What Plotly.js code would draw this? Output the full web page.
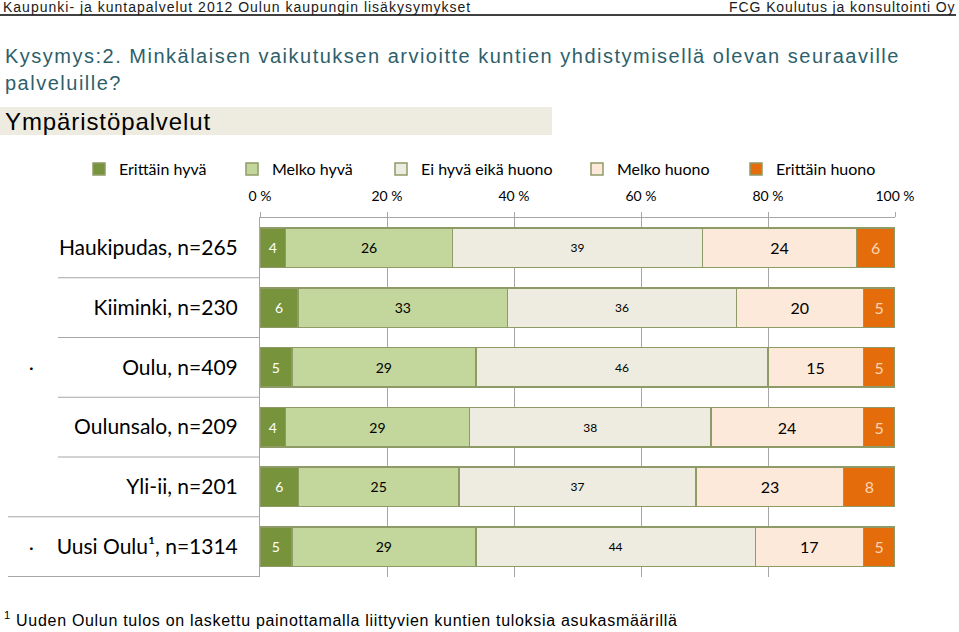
<!DOCTYPE html>
<html>
<head>
<meta charset="utf-8">
<script src="https://cdn.plot.ly/plotly-3.0.1.min.js"></script>
<style>
html,body{margin:0;padding:0;background:#fff;}
#chart{width:959px;height:632px;}
</style>
</head>
<body>
<div id="chart"></div>
<script>
// ---- data ----
const categories = ["Haukipudas, n=265", "Kiiminki, n=230", "Oulu, n=409", "Oulunsalo, n=209", "Yli-ii, n=201", "Uusi Oulu\u00b9, n=1314"];
const seriesNames = ["Erittäin hyvä", "Melko hyvä", "Ei hyvä eikä huono", "Melko huono", "Erittäin huono"];
const erittainHyva = [4, 6, 5, 4, 6, 5];
const melkoHyva = [26, 33, 29, 29, 25, 29];
const eiHyvaEikaHuono = [39, 36, 46, 38, 37, 44];
const melkoHuono = [24, 20, 15, 24, 23, 17];
const erittainHuono = [6, 5, 5, 5, 8, 5];
const xTicks = [0, 20, 40, 60, 80, 100];
const dottedRows = ["Oulu, n=409", "Uusi Oulu\u00b9, n=1314"];

const seriesValues = [erittainHyva, melkoHyva, eiHyvaEikaHuono, melkoHuono, erittainHuono];
const colors = ["#77933c", "#c3d69b", "#eeece1", "#fde9d9", "#e46c0a"];
const textColors = ["#ffffff", "#000000", "#000000", "#000000", "#fbd5b5"];
const textSizes = [14, 14, 12, 16, 16];
const legendTextStart = [119, 272, 421, 617, 776];

// pixel -> paper helpers (plot area: x 260..895, y 218..577)
const L = 260, R = 895, T = 218, B = 577;
const px = v => (v - L) / (R - L);
const py = v => (B - v) / (B - T);

const traces = seriesNames.map((name, i) => ({
  type: "bar",
  orientation: "h",
  name: name,
  legend: i === 0 ? "legend" : "legend" + (i + 1),
  y: categories,
  x: seriesValues[i],
  text: seriesValues[i].map(String),
  textposition: "inside",
  insidetextanchor: "middle",
  constraintext: "none",
  textangle: 0,
  textfont: {family: "Lato, sans-serif", size: textSizes[i], color: textColors[i]},
  marker: {color: colors[i], line: {color: "#8e9b66", width: 1.5}},
  hoverinfo: "x+name"
}));

const shapes = [];
// header rule
shapes.push({type: "line", xref: "paper", yref: "paper", x0: px(0), x1: px(956), y0: py(15), y1: py(15), line: {color: "#404040", width: 2}});
// subtitle box
shapes.push({type: "rect", xref: "paper", yref: "paper", x0: px(0), x1: px(552), y0: py(135), y1: py(107), fillcolor: "#eeece1", line: {width: 0}, layer: "below"});
// row separators in label area
for (let k = 0; k < categories.length; k++) {
  const wide = k >= categories.length - 2;
  shapes.push({type: "line", xref: "paper", yref: "y", x0: wide ? px(8) : px(58), x1: 0, y0: k + 0.5, y1: k + 0.5, line: {color: "#a6a6a6", width: 1}});
}

const hdrFont = {family: "Liberation Sans, Arial, sans-serif", size: 14, color: "#1a1a1a"};
const ttlFont = {family: "Liberation Sans, Arial, sans-serif", size: 20, color: "#2e5f6b"};
const annotations = [
  {text: "Kaupunki- ja kuntapalvelut 2012 Oulun kaupungin lisäkysymykset", xref: "paper", yref: "paper", x: px(1), y: py(7), xanchor: "left", align: "left", yanchor: "middle", showarrow: false, font: hdrFont},
  {text: "FCG Koulutus ja konsultointi Oy", xref: "paper", yref: "paper", x: px(957), y: py(7), xanchor: "right", align: "right", yanchor: "middle", showarrow: false, font: hdrFont},
  {text: "Kysymys:2. Minkälaisen vaikutuksen arvioitte kuntien yhdistymisellä olevan seuraaville", xref: "paper", yref: "paper", x: px(3), y: py(56), xanchor: "left", align: "left", yanchor: "middle", showarrow: false, font: ttlFont},
  {text: "palveluille?", xref: "paper", yref: "paper", x: px(3), y: py(83), xanchor: "left", align: "left", yanchor: "middle", showarrow: false, font: ttlFont},
  {text: "Ympäristöpalvelut", xref: "paper", yref: "paper", x: px(3), y: py(121), xanchor: "left", align: "left", yanchor: "middle", showarrow: false, font: {family: "Liberation Sans, Arial, sans-serif", size: 24, color: "#000000"}},
  {text: "<sup>1</sup> Uuden Oulun tulos on laskettu painottamalla liittyvien kuntien tuloksia asukasmäärillä", xref: "paper", yref: "paper", x: px(2), y: py(619), xanchor: "left", align: "left", yanchor: "middle", showarrow: false, font: {family: "Liberation Sans, Arial, sans-serif", size: 16, color: "#000000"}}
];
const spacing = [1.0, 0.9, 1.5, 1.5, 0.9, 0.7];
dottedRows.forEach(c => annotations.push({text: "·", xref: "paper", yref: "y", x: px(31), y: c, xanchor: "center", yanchor: "middle", showarrow: false, font: {family: "Lato, sans-serif", size: 18, color: "#000"}}));

const legendBase = {orientation: "h", xref: "paper", yref: "paper", xanchor: "left", yanchor: "middle", y: py(169), font: {family: "Lato, sans-serif", size: 16, color: "#000"}, itemclick: false, bgcolor: "rgba(0,0,0,0)"};

const layout = {
  width: 959, height: 632,
  margin: {l: L, r: 959 - R, t: T, b: 632 - B, pad: 0, autoexpand: false},
  paper_bgcolor: "#ffffff", plot_bgcolor: "#ffffff",
  barmode: "stack", barnorm: "percent", bargap: 0.34,
  showlegend: true,
  xaxis: {side: "top", range: [0, 100], tickvals: xTicks, ticktext: xTicks.map(v => v + " %"), showgrid: true, gridcolor: "#a6a6a6", gridwidth: 1, zeroline: false, showline: true, linecolor: "#a6a6a6", linewidth: 1, ticks: "outside", ticklen: 5, tickcolor: "#a6a6a6", ticklabelstandoff: 5, tickfont: {family: "Lato, sans-serif", size: 14, color: "#000"}, fixedrange: true},
  yaxis: {type: "category", categoryorder: "array", categoryarray: categories, autorange: "reversed", showline: true, linecolor: "#a6a6a6", linewidth: 1, showgrid: false, zeroline: false, ticks: "", ticklabelstandoff: 17, tickfont: {family: "Lato, sans-serif", size: 21, color: "#000"}, fixedrange: true},
  shapes: shapes,
  annotations: annotations,
  font: {family: "Lato, sans-serif"}
};
legendTextStart.forEach((t, i) => {
  layout[i === 0 ? "legend" : "legend" + (i + 1)] = Object.assign({}, legendBase, {x: px(t - 40)});
});

Plotly.newPlot("chart", traces, layout, {displayModeBar: false, staticPlot: true}).then(() => {
  document.querySelectorAll("g.annotation").forEach(g => {
    const idx = +g.getAttribute("data-index");
    if (idx < spacing.length) {
      const t = g.querySelector(".annotation-text");
      if (t) t.style.letterSpacing = spacing[idx] + "px";
    }
  });
});
</script>
</body>
</html>
